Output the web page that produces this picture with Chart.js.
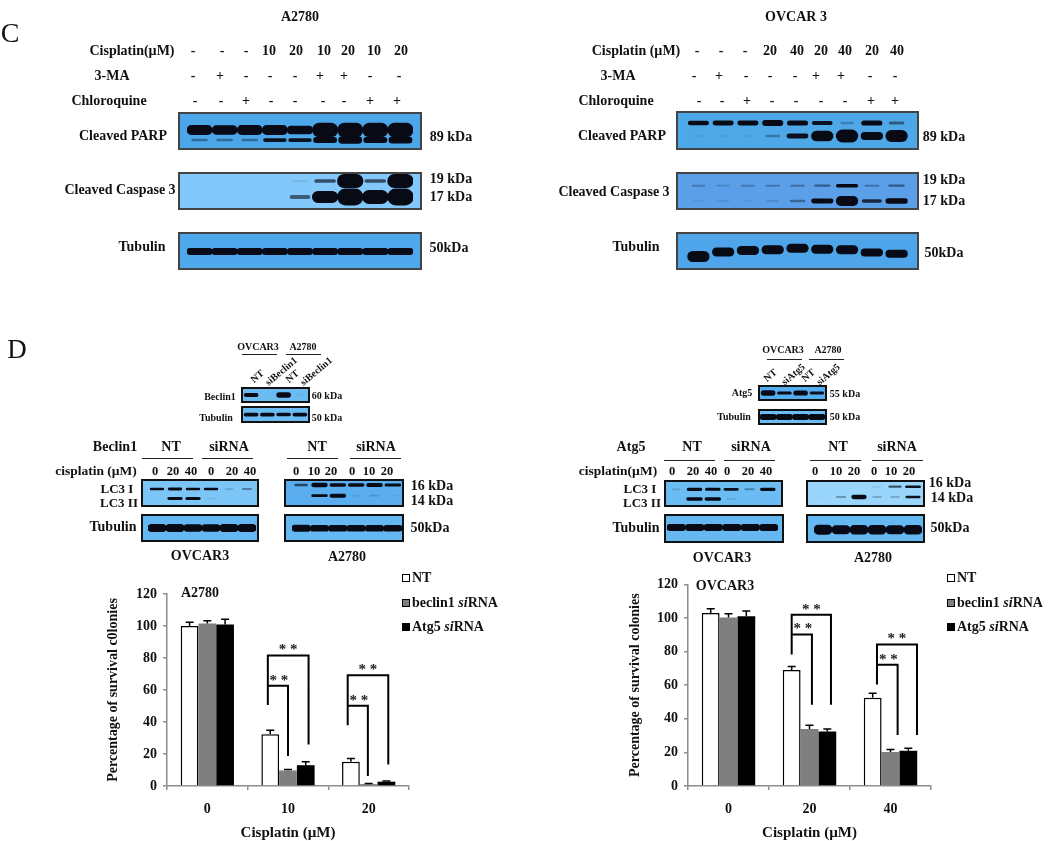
<!DOCTYPE html>
<html>
<head>
<meta charset="utf-8">
<title>Cisplatin autophagy figure</title>
<script src="https://cdn.jsdelivr.net/npm/chart.js@4"></script>
<style>
html, body { margin: 0; padding: 0; background: #fff; }
#page { position: relative; width: 1050px; height: 841px; overflow: hidden; filter: blur(0.45px); }
#page canvas { position: absolute; }
.lbl { position: absolute; white-space: nowrap; font-family: "Liberation Serif", serif; font-weight: bold; color: #111; transform: translate(-50%, -50%); }
.rule { position: absolute; height: 1px; background: #222; }
.swatch { position: absolute; width: 6px; height: 6px; border: 1px solid #000; transform: translate(-50%, -50%); }
</style>
</head>
<body>
<div id="page"></div>
<script>
// Bar chart data
const groupsA = ['0', '10', '20'];
const groupsO = ['0', '20', '40'];
const seriesNames = ['NT', 'beclin1 siRNA', 'Atg5 siRNA'];
const yTicks = [0, 20, 40, 60, 80, 100, 120];

const ntA = [100, 32.3, 15.2];
const beclinA = [101.5, 9.7, 1.2];
const atgA = [101, 13, 2.7];
const ntErrA = [2.3, 2.5, 2];
const beclinErrA = [1.8, 0.6, 0.4];
const atgErrA = [3.2, 2.2, 0.5];

const ntO = [103, 69, 52.5];
const beclinO = [100.3, 34, 20.3];
const atgO = [101, 32.5, 21];
const ntErrO = [2.5, 2.1, 2.7];
const beclinErrO = [2.2, 2.2, 1.4];
const atgErrO = [3.1, 1.4, 1.5];

// significance brackets: group, left foot, inner top/foot, outer top/foot (y values)
const bracketsA = [
    { group: 1, left: -0.25, inner: 0, outer: 0.255, leftFoot: 50.6, innerTop: 62.7, innerFoot: 18.7, outerTop: 81.5, outerFoot: 26 },
    { group: 2, left: -0.26, inner: -0.01, outer: 0.243, leftFoot: 37.9, innerTop: 50.2, innerFoot: 6.3, outerTop: 69.2, outerFoot: 13.5 }
];
const bracketsO = [
    { group: 1, left: -0.22, inner: 0.03, outer: 0.265, leftFoot: 78.3, innerTop: 90.2, innerFoot: 48.3, outerTop: 102, outerFoot: 48.3 },
    { group: 2, left: -0.167, inner: 0.088, outer: 0.327, leftFoot: 60.4, innerTop: 72.1, innerFoot: 30.4, outerTop: 84.2, outerFoot: 30.4 }
];

// Blot band densities, one per lane
const parpUpperA = [0.6, 0.55, 0.6, 0.6, 0.5, 1, 1, 1, 1];
const parpLowerA = [0.12, 0.12, 0.12, 0.3, 0.3, 0.6, 0.8, 0.6, 0.75];
const casp19A = [0, 0, 0, 0, 0.04, 0.2, 1, 0.2, 1];
const casp17A = [0, 0, 0, 0, 0.18, 0.7, 1, 0.8, 1];
const tubulinA = [0.6, 0.6, 0.6, 0.6, 0.6, 0.6, 0.6, 0.6, 0.6];

const parpUpperO = [0.35, 0.4, 0.4, 0.55, 0.45, 0.3, 0.08, 0.45, 0.15];
const parpLowerO = [0.02, 0.02, 0.02, 0.1, 0.3, 0.8, 1, 0.55, 0.9];
const casp19O = [0.08, 0.06, 0.08, 0.09, 0.1, 0.14, 0.35, 0.1, 0.15];
const casp17O = [0.02, 0.03, 0.02, 0.04, 0.12, 0.4, 1, 0.25, 0.45];
const tubulinO = [0.9, 0.7, 0.7, 0.7, 0.7, 0.7, 0.7, 0.6, 0.6];

const beclinKd = [0.55, 0, 0.9, 0.02];
const beclinTub = [0.5, 0.5, 0.45, 0.5];
const atgKd = [0.9, 0.35, 0.8, 0.3];
const atgTub = [0.8, 0.8, 0.8, 0.8];

const lc3IBecO = [0.35, 0.4, 0.35, 0.35, 0.06, 0.12];
const lc3IIBecO = [0, 0.4, 0.45, 0.03, 0, 0];
const tubBecO = [0.9, 0.9, 0.8, 0.8, 0.9, 0.9];
const lc3IBecA = [0.2, 0.7, 0.5, 0.5, 0.6, 0.4];
const lc3IIBecA = [0.01, 0.35, 0.7, 0.03, 0.05, 0.02];
const tubBecA = [0.7, 0.65, 0.65, 0.65, 0.65, 0.65];
const lc3IAtgO = [0.05, 0.45, 0.4, 0.3, 0.1, 0.45];
const lc3IIAtgO = [0, 0.5, 0.45, 0.04, 0, 0.01];
const tubAtgO = [0.7, 0.75, 0.7, 0.75, 0.7, 0.75];
const lc3IAtgA = [0, 0, 0, 0.03, 0.2, 0.3];
const lc3IIAtgA = [0.01, 0.1, 0.7, 0.07, 0.07, 0.3];
const tubAtgA = [0.9, 0.8, 0.85, 0.85, 0.8, 0.85];

// Lane header values
const cisplatinCA = ['-', '-', '-', '10', '20', '10', '20', '10', '20'];
const cisplatinCO = ['-', '-', '-', '20', '40', '20', '40', '20', '40'];
const threeMa = ['-', '+', '-', '-', '-', '+', '+', '-', '-'];
const chloroquine = ['-', '-', '+', '-', '-', '-', '-', '+', '+'];
const doseLanesO = ['0', '20', '40', '0', '20', '40'];
const doseLanesA = ['0', '10', '20', '0', '10', '20'];

const page = document.getElementById('page');
const serif = '"Liberation Serif", serif';

function addLabel(text, x, y, size, rotate, weight) {
    const el = document.createElement('span');
    el.className = 'lbl';
    el.textContent = text;
    el.style.left = x + 'px';
    el.style.top = y + 'px';
    el.style.fontSize = size + 'px';
    if (weight) el.style.fontWeight = weight;
    if (rotate) el.style.transform = 'translate(-50%, -50%) rotate(' + rotate + 'deg)';
    page.appendChild(el);
    return el;
}

function addRule(x1, x2, y) {
    const el = document.createElement('div');
    el.className = 'rule';
    el.style.left = x1 + 'px';
    el.style.top = y + 'px';
    el.style.width = (x2 - x1) + 'px';
    page.appendChild(el);
}

function addCanvas(x, y, w, h) {
    const c = document.createElement('canvas');
    c.width = w;
    c.height = h;
    c.style.left = x + 'px';
    c.style.top = y + 'px';
    page.appendChild(c);
    return c;
}

// Text labels
[
    ['A2780', 300, 17, 14], ['OVCAR 3', 796, 17, 14],
    ['Cisplatin(µM)', 132, 51, 14], ['3-MA', 112, 76, 14], ['Chloroquine', 109, 101, 14],
    ['Cleaved PARP', 123, 136, 14], ['Cleaved Caspase 3', 120, 190, 14], ['Tubulin', 142, 247, 14],
    ['89 kDa', 451, 137, 14], ['19 kDa', 451, 179, 14], ['17 kDa', 451, 197, 14], ['50kDa', 449, 248, 14],
    ['Cisplatin (µM)', 636, 51, 14], ['3-MA', 618, 76, 14], ['Chloroquine', 616, 101, 14],
    ['Cleaved PARP', 622, 136, 14], ['Cleaved Caspase 3', 614, 192, 14], ['Tubulin', 636, 247, 14],
    ['89 kDa', 944, 137, 14], ['19 kDa', 944, 180, 14], ['17 kDa', 944, 201, 14], ['50kDa', 944, 253, 14],
    ['OVCAR3', 258, 346, 10], ['A2780', 303, 346, 10], ['Beclin1', 220, 396, 10], ['Tubulin', 216, 417, 10],
    ['60 kDa', 327, 395, 10], ['50 kDa', 327, 417, 10],
    ['Beclin1', 115, 447, 14], ['NT', 171, 447, 14], ['siRNA', 229, 447, 14], ['NT', 317, 447, 14], ['siRNA', 376, 447, 14],
    ['cisplatin (µM)', 96, 471, 13.5], ['LC3 I', 117, 489, 13], ['LC3 II', 119, 503, 13], ['Tubulin', 113, 527, 14],
    ['16 kDa', 432, 486, 14], ['14 kDa', 432, 501, 14], ['50kDa', 430, 528, 14],
    ['OVCAR3', 200, 556, 14], ['A2780', 347, 557, 14],
    ['OVCAR3', 783, 349, 10], ['A2780', 828, 349, 10], ['Atg5', 742, 392, 10], ['Tubulin', 734, 416, 10],
    ['55 kDa', 845, 393, 10], ['50 kDa', 845, 416, 10],
    ['Atg5', 631, 447, 14], ['NT', 692, 447, 14], ['siRNA', 751, 447, 14], ['NT', 838, 447, 14], ['siRNA', 897, 447, 14],
    ['cisplatin(µM)', 618, 471, 13.5], ['LC3 I', 640, 489, 13], ['LC3 II', 642, 503, 13], ['Tubulin', 636, 528, 14],
    ['16 kDa', 950, 483, 14], ['14 kDa', 952, 498, 14], ['50kDa', 950, 528, 14],
    ['OVCAR3', 722, 558, 14], ['A2780', 873, 558, 14],
    ['A2780', 200, 593, 14], ['OVCAR3', 725, 586, 14]
].forEach(l => addLabel(l[0], l[1], l[2], l[3]));

addLabel('C', 10, 33, 28, 0, 'normal');
addLabel('D', 17, 349, 27, 0, 'normal');

// Rotated lane names above the small blots
[
    ['NT', 257, 376], ['siBeclin1', 281, 371], ['NT', 292, 376], ['siBeclin1', 316, 371],
    ['NT', 770, 375], ['siAtg5', 793, 374], ['NT', 808, 375], ['siAtg5', 828, 374]
].forEach(l => addLabel(l[0], l[1], l[2], 10, -40));

// Lane header rows
function addRow(values, xs, y, size) {
    values.forEach((v, i) => addLabel(v, xs[i], y, size));
}
addRow(cisplatinCA, [193, 222, 246, 269, 296, 324, 348, 374, 401], 51, 14);
addRow(threeMa, [193, 220, 246, 270, 295, 320, 344, 370, 399], 76, 14);
addRow(chloroquine, [195, 221, 246, 271, 295, 323, 344, 370, 397], 101, 14);
addRow(cisplatinCO, [697, 721, 745, 770, 797, 821, 845, 872, 897], 51, 14);
addRow(threeMa, [694, 719, 746, 770, 795, 816, 841, 870, 895], 76, 14);
addRow(chloroquine, [699, 722, 747, 772, 796, 821, 845, 871, 895], 101, 14);
addRow(doseLanesO, [155, 173, 191, 211, 232, 250], 471, 12.5);
addRow(doseLanesA, [296, 314, 331, 352, 369, 387], 471, 12.5);
addRow(doseLanesO, [672, 693, 711, 727, 748, 766], 471, 12.5);
addRow(doseLanesA, [815, 836, 854, 874, 891, 909], 471, 12.5);

[
    [242, 277, 354], [286, 321, 354], [767, 802, 359], [809, 844, 359],
    [142, 193, 458], [202, 253, 458], [287, 338, 458], [350, 401, 458],
    [664, 715, 460], [724, 775, 460], [810, 861, 460], [872, 923, 460]
].forEach(r => addRule(r[0], r[1], r[2]));

// Blots: floating bars on a lane/pixel-row scale, one dataset per band so
// faint bands can come out narrower than the heavy ones
function blot(cfg) {
    const c = addCanvas(cfg.x, cfg.y, cfg.w, cfg.h);
    c.style.background = cfg.color;
    c.style.outline = (cfg.line || 2.5) + 'px solid ' + (cfg.lineColor || '#111');
    c.style.outlineOffset = '-' + (cfg.line || 2.5) + 'px';
    c.style.filter = 'blur(0.7px)';
    const datasets = [];
    cfg.rows.forEach(row => {
        row.values.forEach((d, lane) => {
            if (!d) return;
            const thick = row.min + d * (row.max - row.min);
            const shift = row.tilt ? row.tilt[lane] : 0;
            const range = row.fromBottom ? [row.at - thick, row.at]
                : [row.at + shift - thick / 2, row.at + shift + thick / 2];
            datasets.push({
                data: row.values.map((v, i) => (i === lane ? range : null)),
                backgroundColor: 'rgba(8,10,22,' + Math.min(1, d * 3.2) + ')',
                barPercentage: row.width * Math.min(1, 0.5 + d * 1.6),
                categoryPercentage: 1,
                grouped: false,
                borderRadius: 30,
                borderSkipped: false
            });
        });
    });
    new Chart(c, {
        type: 'bar',
        data: { labels: cfg.rows[0].values.map((d, i) => i + 1), datasets: datasets },
        options: {
            responsive: false,
            animation: false,
            layout: { padding: { left: cfg.padL, right: cfg.padR } },
            plugins: { legend: { display: false }, tooltip: { enabled: false } },
            scales: {
                x: { display: false },
                y: { display: false, reverse: true, min: 0, max: cfg.h }
            }
        }
    });
}

const blue = '#4ba6ea';
[
    { x: 178, y: 112, w: 244, h: 38, color: blue, line: 2, lineColor: '#444', padL: 9, padR: 9, rows: [
        { values: parpUpperA, at: 18, min: 2, max: 14, width: 1 },
        { values: parpLowerA, at: 28, min: 1.5, max: 9, width: 0.95 }] },
    { x: 178, y: 172, w: 244, h: 38, color: '#83c8fb', line: 2, lineColor: '#444', padL: 9, padR: 9, rows: [
        { values: casp19A, at: 9, min: 1, max: 14, width: 1.05 },
        { values: casp17A, at: 25, min: 1, max: 17, width: 1.05 }] },
    { x: 178, y: 232, w: 244, h: 38, color: '#4fa8ec', line: 2, lineColor: '#444', padL: 9, padR: 9, rows: [
        { values: tubulinA, at: 19.5, min: 1, max: 10, width: 1 }] },
    { x: 676, y: 111, w: 243, h: 39, color: '#4ea8e8', line: 2, lineColor: '#444', padL: 10, padR: 10, rows: [
        { values: parpUpperO, at: 12, min: 2, max: 9, width: 0.85 },
        { values: parpLowerO, at: 25, min: 1.5, max: 13, width: 0.9 }] },
    { x: 676, y: 172, w: 243, h: 38, color: '#5a9fe8', line: 2, lineColor: '#444', padL: 10, padR: 10, rows: [
        { values: casp19O, at: 13.7, min: 1.5, max: 7, width: 0.9 },
        { values: casp17O, at: 29, min: 1.5, max: 10, width: 0.9 }] },
    { x: 676, y: 232, w: 243, h: 38, color: '#4fa5ea', line: 2, lineColor: '#444', padL: 10, padR: 10, rows: [
        { values: tubulinO, at: 19.5, min: 2, max: 12, width: 0.9, tilt: [5, 0.5, -1, -1.7, -3.3, -2.3, -1.7, 1, 2.3] }] },
    { x: 241, y: 387, w: 69, h: 16, color: '#6cbcf4', padL: 2, padR: 2, rows: [
        { values: beclinKd, at: 8, min: 1.5, max: 6, width: 0.9 }] },
    { x: 241, y: 406, w: 69, h: 17, color: '#6cbcf4', padL: 2, padR: 2, rows: [
        { values: beclinTub, at: 8.5, min: 1.5, max: 6, width: 0.9 }] },
    { x: 758, y: 385, w: 69, h: 16, color: '#55adf0', padL: 2, padR: 2, rows: [
        { values: atgKd, at: 8, min: 1.5, max: 6, width: 0.9 }] },
    { x: 758, y: 409, w: 69, h: 16, color: '#6cbcf4', padL: 2, padR: 2, rows: [
        { values: atgTub, at: 8, min: 1.5, max: 6, width: 1 }] },
    { x: 141, y: 479, w: 118, h: 28, color: '#7cc6f7', padL: 7, padR: 3, rows: [
        { values: lc3IBecO, at: 10, min: 1.5, max: 5, width: 0.8 },
        { values: lc3IIBecO, at: 19.5, min: 1.5, max: 5, width: 0.85 }] },
    { x: 141, y: 514, w: 118, h: 28, color: '#66b8f3', padL: 7, padR: 3, rows: [
        { values: tubBecO, at: 14, min: 2, max: 8, width: 1 }] },
    { x: 284, y: 479, w: 120, h: 28, color: '#5aaef0', padL: 8, padR: 2, rows: [
        { values: lc3IBecA, at: 6, min: 1.5, max: 5.5, width: 0.9 },
        { values: lc3IIBecA, at: 16.7, min: 1.5, max: 5, width: 0.9 }] },
    { x: 284, y: 514, w: 120, h: 28, color: '#66b8f3', padL: 8, padR: 2, rows: [
        { values: tubBecA, at: 14.3, min: 2, max: 8, width: 1 }] },
    { x: 664, y: 480, w: 119, h: 27, color: '#6cbcf4', padL: 3, padR: 6, rows: [
        { values: lc3IAtgO, at: 9.3, min: 1.5, max: 5.5, width: 0.85 },
        { values: lc3IIAtgO, at: 19, min: 1.5, max: 5.5, width: 0.9 }] },
    { x: 664, y: 514, w: 120, h: 29, color: '#66b8f3', padL: 3, padR: 6, rows: [
        { values: tubAtgO, at: 13.5, min: 2, max: 8, width: 1 }] },
    { x: 806, y: 480, w: 119, h: 27, color: '#9ad6fc', padL: 8, padR: 3, rows: [
        { values: lc3IAtgA, at: 6.7, min: 1.5, max: 5, width: 0.9 },
        { values: lc3IIAtgA, at: 17, min: 1.5, max: 5.5, width: 0.85 }] },
    { x: 806, y: 514, w: 119, h: 29, color: '#66b8f3', padL: 8, padR: 3, rows: [
        { values: tubAtgA, at: 15.7, min: 2, max: 10, width: 1 }] }
].forEach(blot);

// Error bars (upper only) and bracket lines, drawn on the chart's own scales
const annotations = {
    id: 'annotations',
    afterDatasetsDraw(chart) {
        const ctx = chart.ctx;
        const xs = chart.scales.x;
        const ys = chart.scales.y;
        const catW = xs.getPixelForValue(1) - xs.getPixelForValue(0);
        ctx.save();
        ctx.strokeStyle = '#000';
        ctx.lineWidth = 1.5;
        chart.data.datasets.forEach((ds, d) => {
            chart.getDatasetMeta(d).data.forEach((bar, i) => {
                const top = ys.getPixelForValue(ds.data[i] + ds.errors[i]);
                ctx.beginPath();
                ctx.moveTo(bar.x, bar.y);
                ctx.lineTo(bar.x, top);
                ctx.moveTo(bar.x - 4, top);
                ctx.lineTo(bar.x + 4, top);
                ctx.stroke();
            });
        });
        ctx.lineWidth = 2;
        ctx.fillStyle = '#222';
        ctx.font = 'bold 15px ' + serif;
        ctx.textAlign = 'center';
        ctx.textBaseline = 'middle';
        chart.options.plugins.annotations.brackets.forEach(b => {
            const c = xs.getPixelForValue(b.group);
            const lx = c + b.left * catW;
            const ix = c + b.inner * catW;
            const ox = c + b.outer * catW;
            ctx.beginPath();
            ctx.moveTo(lx, ys.getPixelForValue(b.leftFoot));
            ctx.lineTo(lx, ys.getPixelForValue(b.innerTop));
            ctx.lineTo(ix, ys.getPixelForValue(b.innerTop));
            ctx.lineTo(ix, ys.getPixelForValue(b.innerFoot));
            ctx.moveTo(lx, ys.getPixelForValue(b.innerTop));
            ctx.lineTo(lx, ys.getPixelForValue(b.outerTop));
            ctx.lineTo(ox, ys.getPixelForValue(b.outerTop));
            ctx.lineTo(ox, ys.getPixelForValue(b.outerFoot));
            ctx.stroke();
            ctx.fillText('* *', (lx + ix) / 2 + 1, ys.getPixelForValue(b.innerTop) - 5);
            ctx.fillText('* *', (lx + ox) / 2, ys.getPixelForValue(b.outerTop) - 5);
        });
        ctx.restore();
    }
};

function survivalChart(x, w, axisW, padR, top, groups, nt, beclin, atg, errs, brackets, yTitle) {
    const c = addCanvas(x, 570, w, 273);
    return new Chart(c, {
        type: 'bar',
        plugins: [annotations],
        data: {
            labels: groups,
            datasets: [
                { label: seriesNames[0], data: nt, errors: errs[0], backgroundColor: '#fff', borderColor: '#000', borderWidth: 1.5 },
                { label: seriesNames[1], data: beclin, errors: errs[1], backgroundColor: '#7f7f7f', borderColor: '#7f7f7f', borderWidth: 0 },
                { label: seriesNames[2], data: atg, errors: errs[2], backgroundColor: '#000', borderColor: '#000', borderWidth: 0 }
            ]
        },
        options: {
            responsive: false,
            animation: false,
            layout: { padding: { top: top, right: padR } },
            datasets: { bar: { categoryPercentage: 0.66, barPercentage: 1 } },
            plugins: {
                legend: { display: false },
                tooltip: { enabled: false },
                annotations: { brackets: brackets }
            },
            scales: {
                x: {
                    afterFit(s) { s.height = 57; },
                    grid: { offset: true, drawOnChartArea: false, color: '#8c8c8c', tickLength: 4, lineWidth: 1.5 },
                    border: { color: '#8c8c8c', width: 1.5 },
                    ticks: { color: '#111', padding: 11, font: { family: serif, weight: 'bold', size: 14 } },
                    title: { display: true, text: 'Cisplatin (µM)', color: '#111', padding: { top: 0, bottom: 1 }, font: { family: serif, weight: 'bold', size: 15 } }
                },
                y: {
                    min: 0,
                    max: 120,
                    afterFit(s) { s.width = axisW; },
                    afterBuildTicks(s) { s.ticks = yTicks.map(v => ({ value: v })); },
                    grid: { drawOnChartArea: false, color: '#8c8c8c', tickLength: 4, lineWidth: 1.5 },
                    border: { color: '#8c8c8c', width: 1.5 },
                    ticks: { color: '#111', padding: 6, font: { family: serif, weight: 'bold', size: 14 } },
                    title: { display: true, text: yTitle, color: '#111', padding: { top: 4, bottom: 0 }, font: { family: serif, weight: 'bold', size: 14 } }
                }
            }
        }
    });
}

const chartA = survivalChart(101, 314, 66, 6, 24, groupsA, ntA, beclinA, atgA,
    [ntErrA, beclinErrA, atgErrA], bracketsA, 'Percentage of survival c0lonies');
const chartO = survivalChart(623, 314, 65, 6, 14, groupsO, ntO, beclinO, atgO,
    [ntErrO, beclinErrO, atgErrO], bracketsO, 'Percentage of survival colonies');

// HTML legends built from the chart datasets
function addLegend(chart, sx, tx, ys) {
    chart.data.datasets.forEach((ds, i) => {
        const sw = document.createElement('div');
        sw.className = 'swatch';
        sw.style.left = sx + 'px';
        sw.style.top = ys[i] + 'px';
        sw.style.background = ds.backgroundColor;
        page.appendChild(sw);
        const el = addLabel('', tx, ys[i], 14);
        el.style.transform = 'translate(0, -50%)';
        el.innerHTML = ds.label.replace('siRNA', '<i>si</i>RNA');
    });
}
addLegend(chartA, 406, 412, [578, 603, 627]);
addLegend(chartO, 951, 957, [578, 603, 627]);
</script>
</body>
</html>
